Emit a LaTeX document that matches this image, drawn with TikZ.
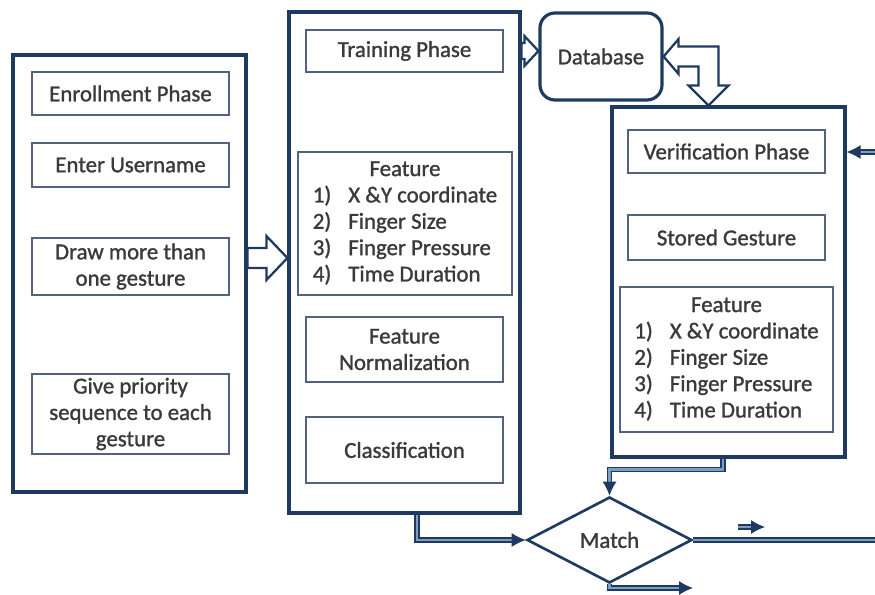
\documentclass[tikz,border=0pt]{standalone}
\usepackage{fontspec}
\setmainfont{Carlito}[FakeBold=1.2]
\usepackage{xcolor}
\usepackage{tikz}
\usetikzlibrary{arrows.meta, positioning, calc, shapes.geometric}
\definecolor{knavy}{HTML}{1F3A60}
\definecolor{kslate}{HTML}{52627F}
\definecolor{kblue}{HTML}{7F9CC2}
\definecolor{ktext}{HTML}{3A3A3A}

\begin{document}
\begin{tikzpicture}[x=1cm, y=1cm,
  outerbox/.style={draw=knavy, line width=1.8pt, fill=white, inner sep=0pt},
  innerbox/.style={draw=kslate, line width=1.1pt, fill=white, text=ktext, align=center,
    inner sep=0pt, font=\fontsize{13}{15}\selectfont},
  conn/.style={draw=knavy, line width=0.7pt, double=kblue, double distance=1.6pt},
  tip/.style={-{Latex[length=2.8mm, width=2.8mm]}},
  blockarr/.style={draw=knavy, line width=1.3pt, fill=white, line join=miter}]
\useasboundingbox (0,0) rectangle (17.5,11.9);
\node[outerbox, minimum width=4.66cm, minimum height=8.74cm] (enrollbox) at (2.59,6.43) {};
\node[outerbox, minimum width=4.62cm, minimum height=10.02cm] (trainbox) at (8.09,6.65) {};
\node[outerbox, minimum width=4.66cm, minimum height=7.0cm] (verifbox) at (14.57,6.26) {};
\node[outerbox, rounded corners=0.3cm, minimum width=2.44cm, minimum height=1.74cm,
  text=ktext, font=\fontsize{13}{15}\selectfont] (db) at (12.02,10.77) {Database};
\node[innerbox, minimum width=3.94cm, minimum height=0.86cm] (enroll) at (2.61,10.03) {Enrollment Phase};
\node[innerbox, minimum width=3.94cm, minimum height=0.88cm] (uname) at (2.61,8.6) {Enter Username};
\node[innerbox, minimum width=3.94cm, minimum height=1.14cm] (drawg) at (2.61,6.57) {Draw more than\\one gesture};
\node[innerbox, minimum width=3.94cm, minimum height=1.6cm] (prio) at (2.61,3.62) {Give priority\\sequence to each\\gesture};
\node[innerbox, minimum width=3.94cm, minimum height=0.84cm] (train) at (8.09,10.88) {Training Phase};
\node[innerbox, minimum width=4.28cm, minimum height=2.86cm] (feat1) at (8.1,7.43)
  {\begin{tabular}{@{}l@{\hspace{0.34cm}}l@{}}\multicolumn{2}{c}{Feature}\\
   1) & X \&Y coordinate\\ 2) & Finger Size\\ 3) & Finger Pressure\\ 4) & Time Duration\end{tabular}};
\node[innerbox, minimum width=3.94cm, minimum height=1.3cm] (norm) at (8.09,4.91) {Feature\\Normalization};
\node[innerbox, minimum width=3.94cm, minimum height=1.32cm] (classif) at (8.09,2.9) {Classification};
\node[innerbox, minimum width=3.94cm, minimum height=0.86cm] (verif) at (14.53,8.87) {Verification Phase};
\node[innerbox, minimum width=3.94cm, minimum height=0.9cm] (stored) at (14.53,7.15) {Stored Gesture};
\node[innerbox, minimum width=4.26cm, minimum height=2.9cm] (feat2) at (14.53,4.71)
  {\begin{tabular}{@{}l@{\hspace{0.34cm}}l@{}}\multicolumn{2}{c}{Feature}\\
   1) & X \&Y coordinate\\ 2) & Finger Size\\ 3) & Finger Pressure\\ 4) & Time Duration\end{tabular}};
\node[diamond, draw=knavy, line width=1.5pt, fill=white, inner sep=0pt, text=ktext,
  minimum width=3.3cm, minimum height=1.72cm, font=\fontsize{13}{15}\selectfont] (match) at (12.19,1.1) {Match};
\coordinate (aS) at ($(enrollbox.east)+(0,0.31)$);
\coordinate (aT) at (trainbox.west |- aS);
\filldraw[blockarr] ($(aS)+(0,0.2)$) -- ($(aT)+(-0.42,0.2)$) -- ($(aT)+(-0.42,0.44)$) -- (aT)
  -- ($(aT)+(-0.42,-0.44)$) -- ($(aT)+(-0.42,-0.2)$) -- ($(aS)+(0,-0.2)$) -- cycle;
\coordinate (bS) at (trainbox.east |- train);
\coordinate (bT) at (db.west |- bS);
\filldraw[blockarr] ($(bS)+(0,0.16)$) -- ($(bT)+(-0.28,0.16)$) -- ($(bT)+(-0.28,0.3)$) -- (bT)
  -- ($(bT)+(-0.28,-0.3)$) -- ($(bT)+(-0.28,-0.16)$) -- ($(bS)+(0,-0.16)$) -- cycle;
\coordinate (cT) at ([xshift=-0.4cm]verifbox.north);
\coordinate (cB) at (cT |- db.east);
\filldraw[blockarr] (db.east) -- ++(0.3,0.35) -- ++(0,-0.15) -- ($(cB)+(0.2,0.2)$) -- ($(cT)+(0.2,0.4)$)
  -- ($(cT)+(0.4,0.4)$) -- (cT) -- ($(cT)+(-0.4,0.4)$) -- ($(cT)+(-0.2,0.4)$) -- ($(cB)+(-0.2,-0.2)$)
  -- ($(db.east)+(0.3,-0.2)$) -- ++(0,-0.15) -- cycle;
\coordinate (outR) at (17.5,1.1);
\coordinate (inR) at (17.5,8.86);
\coordinate (smallA) at (14.76,1.36);
\coordinate (smallB) at (15.3,1.36);
\coordinate (botR) at (13.86,0.14);
\draw[conn, tip] ([xshift=0.25cm]trainbox.south) |- (match.west);
\draw[conn, tip] ([xshift=-0.11cm]verifbox.south) -- ++(0,-0.22) -| (match.north);
\draw[conn] (match.east) -- (outR);
\draw[conn, tip] (inR) -- (verifbox.east |- inR);
\draw[conn, tip] (smallA) -- (smallB);
\draw[conn, tip] (match.south) |- (botR);
\end{tikzpicture}
\end{document}
